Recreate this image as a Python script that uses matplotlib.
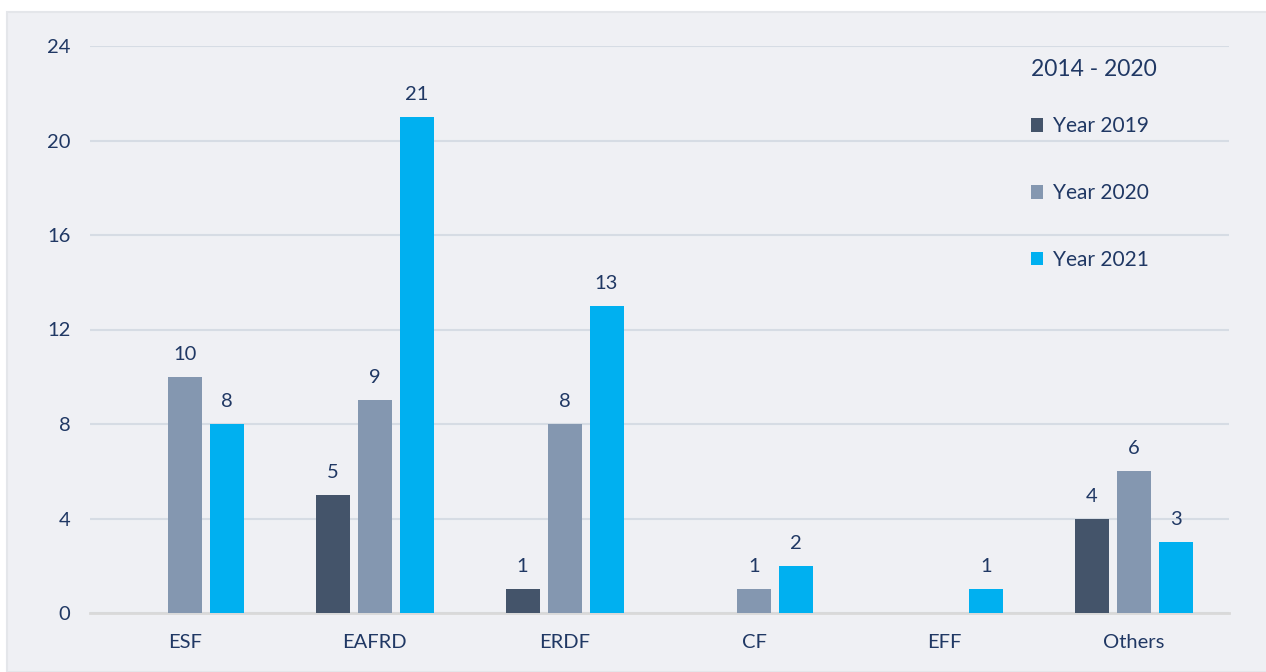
import numpy as np
import matplotlib.pyplot as plt
from matplotlib.patches import Rectangle

# data
funds = ["ESF", "EAFRD", "ERDF", "CF", "EFF", "Others"]
year_2019 = [0, 5, 1, 0, 0, 4]
year_2020 = [10, 9, 8, 1, 0, 6]
year_2021 = [8, 21, 13, 2, 1, 3]
series_labels = ["Year 2019", "Year 2020", "Year 2021"]
yticks = [0, 4, 8, 12, 16, 20, 24]

colors = ["#44546A", "#8497B0", "#00B0F0"]
text_color = "#203864"
plt.rcParams["font.family"] = ["Lato", "DejaVu Sans"]

fig = plt.figure(figsize=(12.66, 6.72), dpi=100, facecolor="white")
# light panel behind the chart
fig.add_artist(Rectangle((7 / 1266, 0), 1, (672 - 12) / 672,
                         transform=fig.transFigure, facecolor="#EFF0F4",
                         edgecolor="#E4E6EA", linewidth=1.5, zorder=-10))

ax = fig.add_axes([90 / 1266, 59 / 672, (1229 - 90) / 1266, (613 - 46) / 672])
ax.set_facecolor("none")

x = np.arange(len(funds))
offset = 0.221
width = 0.179
for i, (vals, lab) in enumerate(zip([year_2019, year_2020, year_2021], series_labels)):
    pos = x + (i - 1) * offset
    bars = ax.bar(pos, vals, width, color=colors[i], label=lab, zorder=3)
    for b, v in zip(bars, vals):
        if v > 0:
            ax.annotate(str(v), (b.get_x() + b.get_width() / 2, v),
                        xytext=(0, 10), textcoords="offset points",
                        ha="center", va="bottom", fontsize=14.5, color=text_color)

ax.set_xlim(-0.5, len(funds) - 0.5)
ax.set_ylim(0, 24)
ax.set_yticks(yticks)
ax.set_xticks(x)
ax.set_xticklabels(funds)
ax.tick_params(axis="both", length=0, labelsize=14.5, labelcolor=text_color)
ax.tick_params(axis="x", pad=15)
ax.tick_params(axis="y", pad=14)
ax.grid(axis="y", color="#D6DCE4", linewidth=1.5, zorder=0)
for s in ["top", "right", "left"]:
    ax.spines[s].set_visible(False)
ax.spines["bottom"].set_color("#D9D9D9")
ax.spines["bottom"].set_linewidth(2)

leg = ax.legend(title="2014 - 2020", loc="upper left", bbox_to_anchor=(0.817, 0.995),
                frameon=False, fontsize=15, title_fontsize=16.5, borderpad=0,
                handlelength=0.6, handleheight=0.6, handletextpad=0.45,
                labelspacing=2.25, alignment="left")
leg.get_title().set_color(text_color)
for t in leg.get_texts():
    t.set_color(text_color)
leg._legend_box.sep = 26

fig.savefig("out.png", dpi=100, facecolor=fig.get_facecolor())
